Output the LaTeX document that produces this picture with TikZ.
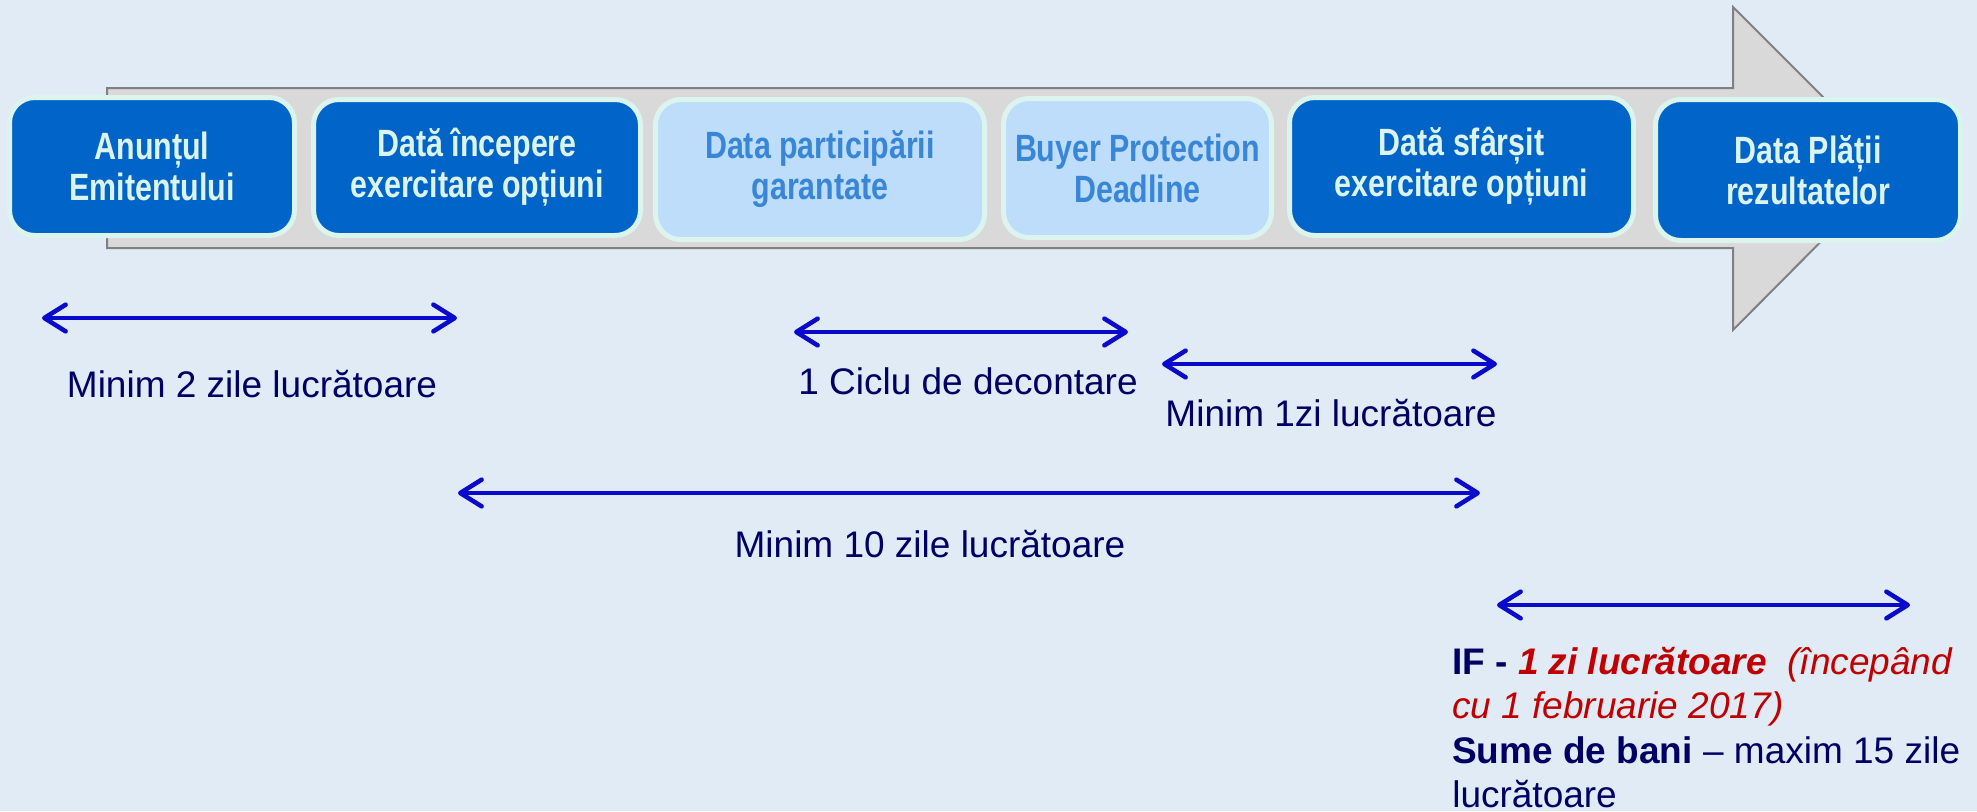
\documentclass[tikz,border=0pt]{standalone}
\usepackage{fontspec}
\setmainfont{Liberation Sans}
\newfontfamily\narrowfont[FakeStretch=0.8]{Liberation Sans}
\usetikzlibrary{arrows.meta}

\definecolor{bgblue}{RGB}{224,235,245}
\definecolor{shaftgray}{RGB}{217,217,217}
\definecolor{edgegray}{RGB}{128,128,128}
\definecolor{darkbox}{RGB}{0,100,200}
\definecolor{lightbox}{RGB}{189,221,251}
\definecolor{mint}{RGB}{220,244,238}
\definecolor{softtext}{RGB}{58,134,214}
\definecolor{spanblue}{RGB}{10,10,205}
\definecolor{navy}{RGB}{0,0,100}
\definecolor{darkred}{RGB}{192,0,0}

\tikzset{
  datebox/.style={draw=mint, line width=3.75pt, fill=darkbox, rounded corners=19pt, text=mint,
    font=\narrowfont\bfseries\fontsize{28.5pt}{30.75pt}\selectfont, align=center, inner sep=0pt},
  softbox/.style={datebox, fill=lightbox, text=softtext},
  span/.style={spanblue, line width=3.4pt,
    {Straight Barb[length=16pt,width=20pt,round]}-{Straight Barb[length=16pt,width=20pt,round]}},
  spanlabel/.style={text=navy, font=\fontsize{27.75pt}{33pt}\selectfont, anchor=base, inner sep=0pt},
}

\begin{document}
\begin{tikzpicture}[x=0.75pt,y=0.75pt,yscale=-1,xscale=1]
%background, sets the size of the page
\fill[bgblue] (0,0) rectangle (1977,811);
\useasboundingbox (0,0) rectangle (1977,811);

%Big arrow
\draw[fill=shaftgray, draw=edgegray, line width=1.5pt] (107,88) -- (1733,88) -- (1733,7) -- (1894,168) -- (1733,330) -- (1733,248) -- (107,248) -- cycle ;

%Date boxes
\node[datebox, minimum width=213.75pt, minimum height=103.5pt] (anunt) at (152,166.5) {Anunțul\\Emitentului};
\node[datebox, minimum width=245.25pt, minimum height=102pt] (inceput) at (477,167.5) {Dată începere\\exercitare opțiuni};
\node[softbox, minimum width=246.75pt, minimum height=105pt] (particip) at (820,169.5) {Data participării\\garantate};
\node[softbox, minimum width=201pt, minimum height=104.25pt] (buyer) at (1137.5,168) {Buyer Protection\\Deadline};
\node[datebox, minimum width=258pt, minimum height=103.5pt] (sfarsit) at (1461.5,166.5) {Dată sfârșit\\exercitare opțiuni};
\node[datebox, minimum width=228.75pt, minimum height=105.75pt] (plata) at (1808,170) {Data Plății\\rezultatelor};

%Span ends
\coordinate (s1a) at (42,318);
\coordinate (s1b) at (457,318);
\coordinate (s2a) at (794,332);
\coordinate (s2b) at (1128,332);
\coordinate (s3a) at (1162,364);
\coordinate (s3b) at (1497,364);
\coordinate (s4a) at (458,493);
\coordinate (s4b) at (1480,493);
\coordinate (s5a) at (1497,605);
\coordinate (s5b) at (1910,605);

%Spans
\draw[span] (s1a) -- (s1b);
\draw[span] (s2a) -- (s2b);
\draw[span] (s3a) -- (s3b);
\draw[span] (s4a) -- (s4b);
\draw[span] (s5a) -- (s5b);

% Text Node
\node[spanlabel] (lab1) at (252,397) {Minim 2 zile lucrătoare};
% Text Node
\node[spanlabel] (lab2) at (968,394) {1 Ciclu de decontare};
% Text Node
\node[spanlabel] (lab3) at (1331,426) {Minim 1zi lucrătoare};
% Text Node
\node[spanlabel] (lab4) at (930,557) {Minim 10 zile lucrătoare};
% Text Node
\node[text=navy, font=\fontsize{27.75pt}{33.25pt}\selectfont, anchor=north west, inner sep=0pt, align=left] (note) at (1452,647)
  {\textbf{IF -} \textcolor{darkred}{\textbf{\textit{1 zi lucrătoare}}\ \ \textit{(începând}}\\
   \textcolor{darkred}{\textit{cu 1 februarie 2017)}}\\
   \textbf{Sume de bani} – maxim 15 zile\\
   lucrătoare};

\end{tikzpicture}
\end{document}
